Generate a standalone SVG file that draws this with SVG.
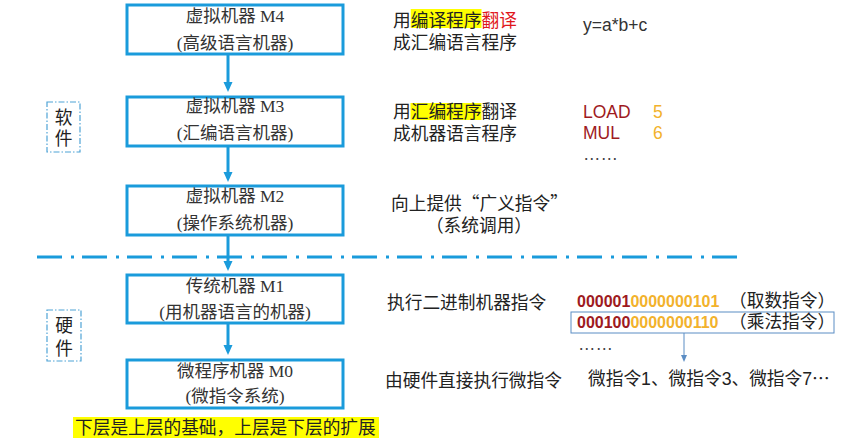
<svg xmlns="http://www.w3.org/2000/svg" width="853" height="444" viewBox="0 0 853 444">
<style>
.box{fill:#fff;stroke:#1A9BDB;stroke-width:3}
.bt{font-family:"Liberation Serif","Noto Sans CJK SC",serif;font-size:17.5px;fill:#333;text-anchor:middle}
.rt{font-family:"Liberation Sans","Noto Sans CJK SC",sans-serif;font-size:17.7px;fill:#222}
.cjk{font-family:"Noto Sans CJK SC",sans-serif}
.lat{font-family:"Liberation Sans",sans-serif;font-size:17.5px}
.bin{font-family:"Liberation Sans",sans-serif;font-size:16px;font-weight:bold}
.red{fill:#9E1A1E}
.org{fill:#F2B22C}
.lab{fill:none;stroke:#4FA3D6;stroke-width:1.2;stroke-dasharray:6 2 1.5 2}
.conn{stroke:#1A9BDB;stroke-width:3;fill:none}
.hl{fill:#FFFF00}
</style>
<defs>
<marker id="ah" markerWidth="10" markerHeight="10" refX="1" refY="5" orient="auto" markerUnits="userSpaceOnUse">
<path d="M0,0.5 L10,5 L0,9.5 z" fill="#1A9BDB"/>
</marker>
<marker id="ahs" markerWidth="7" markerHeight="7" refX="1" refY="3.5" orient="auto" markerUnits="userSpaceOnUse">
<path d="M0,0.5 L7,3.5 L0,6.5 z" fill="#5B8DC4"/>
</marker>
</defs>

<g id="connectors">
<line class="conn" x1="228" y1="55" x2="228" y2="83" marker-end="url(#ah)"/>
<line class="conn" x1="228" y1="147" x2="228" y2="173" marker-end="url(#ah)"/>
<line class="conn" x1="228" y1="235" x2="228" y2="262" marker-end="url(#ah)"/>
<line class="conn" x1="228" y1="324" x2="228" y2="346" marker-end="url(#ah)"/>
<line x1="684" y1="333" x2="684" y2="356" stroke="#5B8DC4" stroke-width="1" marker-end="url(#ahs)"/>
</g>

<line id="divider" x1="37" y1="257" x2="745" y2="257" stroke="#1A9BDB" stroke-width="3" stroke-dasharray="25 9 3 8"/>

<g id="M4">
<rect class="box" x="127" y="5" width="216" height="49"/>
<text class="bt" x="235" y="21.5">虚拟机器 M4</text>
<text class="bt" x="235" y="48.5">(高级语言机器)</text>
</g>
<g id="M3">
<rect class="box" x="127" y="97" width="216" height="49"/>
<text class="bt" x="235" y="111.5">虚拟机器 M3</text>
<text class="bt" x="235" y="138.5">(汇编语言机器)</text>
</g>
<g id="M2">
<rect class="box" x="127" y="186" width="216" height="49"/>
<text class="bt" x="235" y="201.5">虚拟机器 M2</text>
<text class="bt" x="235" y="228.5">(操作系统机器)</text>
</g>
<g id="M1">
<rect class="box" x="127" y="275" width="216" height="48"/>
<text class="bt" x="235" y="291.5">传统机器 M1</text>
<text class="bt" x="235" y="318">(用机器语言的机器)</text>
</g>
<g id="M0">
<rect class="box" x="127" y="360" width="216" height="48"/>
<text class="bt" x="235" y="376.5">微程序机器 M0</text>
<text class="bt" x="235" y="401.5">(微指令系统)</text>
</g>

<g id="software">
<rect class="lab" x="47" y="102" width="33" height="50"/>
<text class="rt" x="63.5" y="124" text-anchor="middle" fill="#333">软</text>
<text class="rt" x="63.5" y="145" text-anchor="middle" fill="#333">件</text>
</g>
<g id="hardware">
<rect class="lab" x="47" y="310" width="34" height="51"/>
<text class="rt" x="64" y="332" text-anchor="middle" fill="#333">硬</text>
<text class="rt" x="64" y="355" text-anchor="middle" fill="#333">件</text>
</g>

<g id="note-M4">
<rect class="hl" x="410.7" y="9" width="70.8" height="19"/>
<text class="rt" x="393" y="26.5">用编译程序<tspan fill="#E0161B">翻译</tspan></text>
<text class="rt" x="393" y="49">成汇编语言程序</text>
<text class="lat" x="583" y="31" fill="#333" font-size="17.7">y=a*b+c</text>
</g>
<g id="note-M3">
<rect class="hl" x="410.5" y="103" width="71" height="17"/>
<text class="rt" x="393" y="118">用汇编程序翻译</text>
<text class="rt" x="393" y="140">成机器语言程序</text>
<text class="lat red" x="583" y="118">LOAD</text>
<text class="lat org" x="653" y="118">5</text>
<text class="lat red" x="583" y="139">MUL</text>
<text class="lat org" x="653" y="139">6</text>
<text class="lat" x="583" y="160" fill="#444" font-size="17">……</text>
</g>
<g id="note-M2">
<text class="rt" x="391" y="210">向上提供<tspan class="cjk">“</tspan>广义指令<tspan class="cjk">”</tspan></text>
<text class="rt" x="479" y="232" text-anchor="middle">（系统调用）</text>
</g>
<g id="note-M1">
<text class="rt" x="387" y="309">执行二进制机器指令</text>
<text class="bin" x="577" y="306.5"><tspan class="red">000001</tspan><tspan class="org">0000000101</tspan></text>
<text class="rt" x="729" y="307">（取数指令）</text>
<rect x="571" y="312" width="263" height="21" fill="none" stroke="#5B8DC4" stroke-width="1"/>
<text class="bin" x="577" y="327.5"><tspan class="red">000100</tspan><tspan class="org">0000000110</tspan></text>
<text class="rt" x="729" y="328">（乘法指令）</text>
<text class="lat" x="578" y="350" fill="#444" font-size="17">……</text>
</g>
<g id="note-M0">
<text class="rt" x="385" y="387">由硬件直接执行微指令</text>
<text class="rt" x="588" y="385" fill="#444">微指令1、微指令3、微指令7<tspan class="cjk">…</tspan></text>
</g>

<g id="caption">
<rect class="hl" x="73" y="417" width="306" height="21"/>
<text class="rt" x="75" y="434" font-size="17.8" fill="#111">下层是上层的基础，上层是下层的扩展</text>
</g>
</svg>
